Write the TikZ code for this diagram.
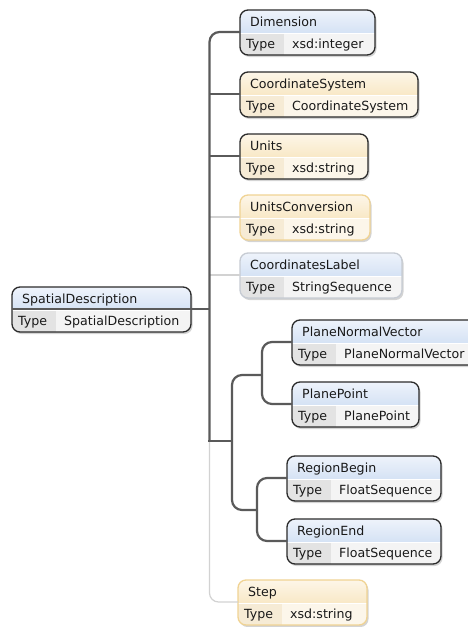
\documentclass[tikz,border=0pt]{standalone}
\usepackage{fontspec}
\setmainfont{DejaVu Sans}
\definecolor{bhtop}{HTML}{EEF3FB}
\definecolor{bhbot}{HTML}{BDD2EE}
\definecolor{btype}{HTML}{E3E3E3}
\definecolor{bval}{HTML}{F4F4F4}
\definecolor{ohtop}{HTML}{FDF6E8}
\definecolor{ohbot}{HTML}{F4DBA6}
\definecolor{otype}{HTML}{F6EBD5}
\definecolor{oval}{HTML}{FCF6EA}
\definecolor{darkb}{HTML}{2B2B2B}
\definecolor{liteb}{HTML}{C6CBD3}
\definecolor{liteo}{HTML}{F0D393}
\definecolor{conn}{HTML}{5A5A5A}
\definecolor{liteconn}{HTML}{D2D2D2}
\definecolor{shadowc}{HTML}{D4D4D4}
\newcommand\boxfill[4]{%
 \shade[sharp corners,top color=#1,bottom color=#2] (path picture bounding box.north west) rectangle ([yshift=-23pt]path picture bounding box.north east);
 \fill[sharp corners,#3] ([yshift=-23pt]path picture bounding box.north west) rectangle ([xshift=44pt]path picture bounding box.south west);
 \fill[sharp corners,#4] ([yshift=-23pt,xshift=44pt]path picture bounding box.north west) rectangle (path picture bounding box.south east);
 \draw[sharp corners,white,line width=0.8pt] ([yshift=-23pt]path picture bounding box.north west) -- ([yshift=-23pt]path picture bounding box.north east);
}
\tikzset{
 elem/.style={rounded corners=8pt, minimum height=45pt, inner sep=0pt, outer sep=0pt},
 bluefill/.style={path picture={\boxfill{bhtop}{bhbot}{btype}{bval}}},
 orangefill/.style={path picture={\boxfill{ohtop}{ohbot}{otype}{oval}}},
 reqb/.style={draw=darkb, line width=1.3pt},
 optb/.style={draw=liteb, line width=1.3pt},
 opto/.style={draw=liteo, line width=1.3pt},
 lbl/.style={inner sep=0pt, anchor=base west, font=\fontsize{12.6}{14}\selectfont, text=black!90},
 dark/.style={draw=conn, line width=2.2pt},
 lite/.style={draw=liteconn, line width=1.2pt},
}
% name, x, y, width, title, type, fill style, border style
\newcommand\xelem[8]{%
 \fill[shadowc, rounded corners=8pt] (#2+1.5,#3+2) rectangle ++(#4,45);
 \node[elem, #7, #8, minimum width=#4pt, anchor=north west] (#1) at (#2,#3) {};
 \node[lbl] (#1-t) at ([shift={(10pt,-16.3pt)}]#1.north west) {#5};
 \node[lbl] (#1-k) at ([shift={(6pt,-38.8pt)}]#1.north west) {Type};
 \node[lbl] (#1-v) at ([shift={(52pt,-38.8pt)}]#1.north west) {#6};
 \coordinate (#1-c) at ([yshift=-22pt]#1.north west);
}
\begin{document}
\begin{tikzpicture}[x=1pt,y=-1pt]
\useasboundingbox (0,0) rectangle (467,627);
\xelem{sd}{12}{287}{179}{SpatialDescription}{SpatialDescription}{bluefill}{reqb}
\xelem{dim}{240}{10}{135}{Dimension}{xsd:integer}{bluefill}{reqb}
\xelem{cs}{240}{72}{178}{CoordinateSystem}{CoordinateSystem}{orangefill}{reqb}
\xelem{units}{240}{134}{128}{Units}{xsd:string}{orangefill}{reqb}
\xelem{uc}{240}{195}{130}{UnitsConversion}{xsd:string}{orangefill}{opto}
\xelem{cl}{240}{253}{162}{CoordinatesLabel}{StringSequence}{bluefill}{optb}
\xelem{pnv}{292}{320}{190}{PlaneNormalVector}{PlaneNormalVector}{bluefill}{reqb}
\xelem{pp}{292}{382}{127}{PlanePoint}{PlanePoint}{bluefill}{reqb}
\xelem{rb}{287}{456}{154}{RegionBegin}{FloatSequence}{bluefill}{reqb}
\xelem{re}{287}{519}{154}{RegionEnd}{FloatSequence}{bluefill}{reqb}
\xelem{step}{238}{580}{129}{Step}{xsd:string}{orangefill}{opto}
\coordinate (tb) at (209.5,441);
\coordinate (ch) at (232,441);
\coordinate (g1) at (262,375);
\coordinate (g2) at (257,510);
% optional (light) connectors
\draw[lite] (uc-c) -- (uc-c -| tb);
\draw[lite] (cl-c) -- (cl-c -| tb);
\draw[lite, rounded corners=9pt] (tb) |- (step-c);
% required connectors
\draw[dark] (sd-c) -- (sd-c -| tb);
\draw[dark, rounded corners=10pt] (dim-c) -| (tb);
\draw[dark, line cap=rect] (tb) -- (ch);
\draw[dark] (cs-c) -- (cs-c -| tb);
\draw[dark] (units-c) -- (units-c -| tb);
\draw[dark, rounded corners=10pt] (ch) |- (g1);
\draw[dark, rounded corners=10pt] (ch) |- (g2);
\draw[dark, rounded corners=10pt] (g1) |- (pnv-c);
\draw[dark, rounded corners=10pt] (g1) |- (pp-c);
\draw[dark, rounded corners=10pt] (g2) |- (rb-c);
\draw[dark, rounded corners=10pt] (g2) |- (re-c);
\end{tikzpicture}
\end{document}
